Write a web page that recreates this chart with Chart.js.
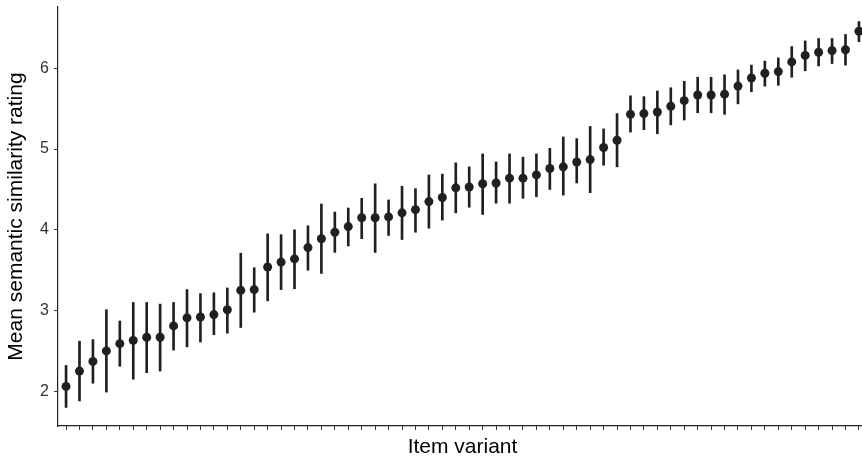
<!DOCTYPE html>
<html>
<head>
<meta charset="utf-8">
<script src="https://cdn.jsdelivr.net/npm/chart.js@4.4.0/dist/chart.umd.min.js"></script>
<style>
    html, body { margin: 0; padding: 0; background: #fff; overflow: hidden; }
    #wrap { width: 870px; height: 462px; position: relative; }
</style>
</head>
<body>
<div id="wrap"><canvas id="chart"></canvas></div>
<script>
// Item variants, sorted by mean rating
const means = [2.06, 2.25, 2.37, 2.50, 2.59, 2.63, 2.67, 2.67, 2.81, 2.91,
               2.92, 2.95, 3.01, 3.25, 3.26, 3.54, 3.60, 3.64, 3.78, 3.89,
               3.97, 4.04, 4.15, 4.15, 4.16, 4.21, 4.25, 4.35, 4.40, 4.52,
               4.53, 4.57, 4.58, 4.64, 4.64, 4.68, 4.76, 4.78, 4.84, 4.87,
               5.02, 5.11, 5.43, 5.44, 5.46, 5.53, 5.60, 5.67, 5.67, 5.68,
               5.78, 5.88, 5.94, 5.96, 6.08, 6.16, 6.20, 6.22, 6.23, 6.46];
const upper = [2.32, 2.62, 2.64, 3.01, 2.87, 3.10, 3.10, 3.08, 3.10, 3.26,
               3.21, 3.22, 3.28, 3.71, 3.53, 3.95, 3.94, 4.00, 4.05, 4.32,
               4.22, 4.27, 4.39, 4.57, 4.37, 4.54, 4.51, 4.68, 4.69, 4.83,
               4.78, 4.94, 4.84, 4.94, 4.90, 4.94, 5.01, 5.15, 5.13, 5.28,
               5.25, 5.44, 5.66, 5.65, 5.72, 5.76, 5.84, 5.89, 5.89, 5.92,
               5.98, 6.04, 6.09, 6.13, 6.27, 6.34, 6.37, 6.37, 6.42, 6.58];
const lower = [1.80, 1.88, 2.10, 1.99, 2.31, 2.15, 2.23, 2.25, 2.51, 2.55,
               2.61, 2.70, 2.72, 2.79, 2.98, 3.12, 3.26, 3.27, 3.50, 3.46,
               3.72, 3.80, 3.89, 3.72, 3.93, 3.88, 3.97, 4.02, 4.12, 4.21,
               4.28, 4.19, 4.33, 4.33, 4.39, 4.41, 4.50, 4.43, 4.58, 4.46,
               4.80, 4.78, 5.21, 5.24, 5.19, 5.30, 5.36, 5.45, 5.45, 5.43,
               5.56, 5.71, 5.78, 5.79, 5.89, 5.97, 6.03, 6.06, 6.04, 6.33];
const yTicks = [2, 3, 4, 5, 6];

const items = means.map((_, i) => i);
const ink = '#231f20';
const font = 'Liberation Sans, Arial, Helvetica, sans-serif';

new Chart(document.getElementById('chart'), {
    type: 'bar',
    data: {
        datasets: [
            {
                type: 'line',
                data: items.map(i => ({ x: i, y: means[i] })),
                showLine: false,
                pointRadius: 4.5,
                pointBackgroundColor: ink,
                pointBorderWidth: 0,
                order: 0
            },
            {
                type: 'bar',
                data: items.map(i => ({ x: i, y: [lower[i], upper[i]] })),
                backgroundColor: ink,
                borderWidth: 0,
                barThickness: 2,
                order: 1
            }
        ]
    },
    options: {
        responsive: true,
        maintainAspectRatio: false,
        animation: false,
        layout: { autoPadding: false, padding: { top: 7, right: 3, left: 0, bottom: 0 } },
        plugins: { legend: { display: false }, tooltip: { enabled: false } },
        scales: {
            x: {
                type: 'linear',
                min: -0.6,
                max: 59.6,
                offset: false,
                afterBuildTicks: axis => { axis.ticks = items.map(v => ({ value: v })); },
                afterFit: axis => {
                    axis.height = 36;
                    axis.paddingLeft = 0;
                    axis.paddingRight = 0;
                },
                grid: { offset: false, drawOnChartArea: false, drawTicks: true, tickLength: 4, color: '#333', lineWidth: 1 },
                border: { display: true, color: '#222', width: 1.2 },
                ticks: { autoSkip: false, maxRotation: 0, callback: () => '' },
                title: {
                    display: true,
                    text: 'Item variant',
                    color: '#000',
                    font: { family: font, size: 21 },
                    padding: { top: 0, bottom: 2 }
                }
            },
            y: {
                min: 1.57,
                max: 6.76,
                afterBuildTicks: axis => { axis.ticks = yTicks.map(v => ({ value: v })); },
                afterFit: axis => {
                    axis.width = 58;
                    axis.paddingTop = 0;
                    axis.paddingBottom = 0;
                },
                grid: { drawOnChartArea: false, drawTicks: true, tickLength: 4, color: '#333', lineWidth: 1 },
                border: { display: true, color: '#222', width: 1.2 },
                ticks: {
                    color: '#333',
                    padding: 5,
                    font: { family: font, size: 16 }
                },
                title: {
                    display: true,
                    text: 'Mean semantic similarity rating',
                    color: '#000',
                    font: { family: font, size: 21 },
                    padding: { top: 4, bottom: 0 }
                }
            }
        }
    }
});
</script>
</body>
</html>
